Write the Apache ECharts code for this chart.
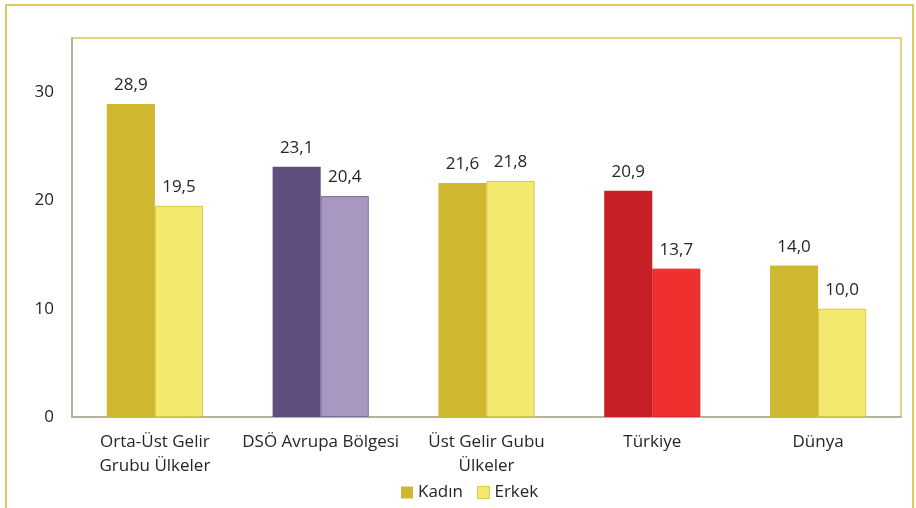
<!DOCTYPE html>
<html>
<head>
<meta charset="utf-8">
<script src="https://cdn.jsdelivr.net/npm/echarts@6/dist/echarts.min.js"></script>
<style>
  html, body { margin: 0; padding: 0; background: #fff; }
  #chart { width: 916px; height: 508px; }
</style>
</head>
<body>
<div id="chart"></div>
<script>
  // kategoriler ve degerler
  var categories = ["Orta-Üst Gelir\nGrubu Ülkeler", "DSÖ Avrupa Bölgesi", "Üst Gelir Gubu\nÜlkeler", "Türkiye", "Dünya"];
  var kadin = [28.9, 23.1, 21.6, 20.9, 14.0];
  var erkek = [19.5, 20.4, 21.8, 13.7, 10.0];
  var kadinColors = ["#CFB82F", "#5F4E7E", "#CFB82F", "#C42026", "#CFB82F"];
  var erkekColors = ["#F4E96F", "#A898C0", "#F4E96F", "#EE302E", "#F4E96F"];
  var erkekBorders = ["#D9C64A", "#7E6C9C", "#D9C64A", "#D8282A", "#D9C64A"];

  (function () {
    var myChart = echarts.init(document.getElementById("chart"));
    var font = "'Open Sans', 'Liberation Sans', sans-serif";

    function fmt(p) {
      return p.value.toFixed(1).replace(".", ",");
    }

    var option = {
      backgroundColor: "#fff",
      textStyle: { fontFamily: font },
      graphic: [
        {
          type: "rect",
          shape: { x: 6, y: 5, width: 907, height: 520 },
          style: { fill: "none", stroke: "#D4BC2A", lineWidth: 1.5 },
          silent: true
        }
      ],
      legend: {
        bottom: 2,
        left: 396,
        icon: "rect",
        itemWidth: 12,
        itemHeight: 12,
        itemGap: 14,
        textStyle: { fontFamily: font, fontSize: 17, color: "#262626" },
        data: [
          { name: "Kadın", itemStyle: { color: "#CFB82F" } },
          { name: "Erkek", itemStyle: { color: "#F4E96F", borderColor: "#D9C64A", borderWidth: 1 } }
        ]
      },
      grid: {
        left: 72,
        top: 38,
        right: 15,
        bottom: 91,
        show: true,
        borderColor: "#D9C65A",
        borderWidth: 1.5
      },
      xAxis: {
        type: "category",
        data: categories,
        axisTick: { show: false },
        axisLine: { lineStyle: { color: "#A6A6A6", width: 1.5 } },
        axisLabel: {
          color: "#262626",
          fontSize: 17,
          lineHeight: 24,
          margin: 13,
          interval: 0
        }
      },
      yAxis: {
        type: "value",
        min: 0,
        max: 35,
        interval: 10,
        splitLine: { show: false },
        axisTick: { show: false },
        axisLine: { show: true, lineStyle: { color: "#A6A6A6", width: 1.5 } },
        axisLabel: {
          color: "#262626",
          fontSize: 17,
          margin: 18,
          showMaxLabel: false
        }
      },
      series: [
        {
          name: "Kadın",
          type: "bar",
          barGap: "0%",
          barCategoryGap: "42%",
          itemStyle: { color: "#CFB82F" },
          label: {
            show: true,
            position: "top",
            distance: 10,
            color: "#262626",
            fontSize: 17,
            formatter: fmt
          },
          data: kadin.map(function (v, i) {
            return { value: v, itemStyle: { color: kadinColors[i] } };
          })
        },
        {
          name: "Erkek",
          type: "bar",
          itemStyle: { color: "#F4E96F" },
          label: {
            show: true,
            position: "top",
            distance: 10,
            color: "#262626",
            fontSize: 17,
            formatter: fmt
          },
          data: erkek.map(function (v, i) {
            return {
              value: v,
              itemStyle: { color: erkekColors[i], borderColor: erkekBorders[i], borderWidth: 1 }
            };
          })
        }
      ]
    };

    myChart.setOption(option);
    window.addEventListener("resize", function () {
      myChart.resize();
    });
  })();
</script>
</body>
</html>
